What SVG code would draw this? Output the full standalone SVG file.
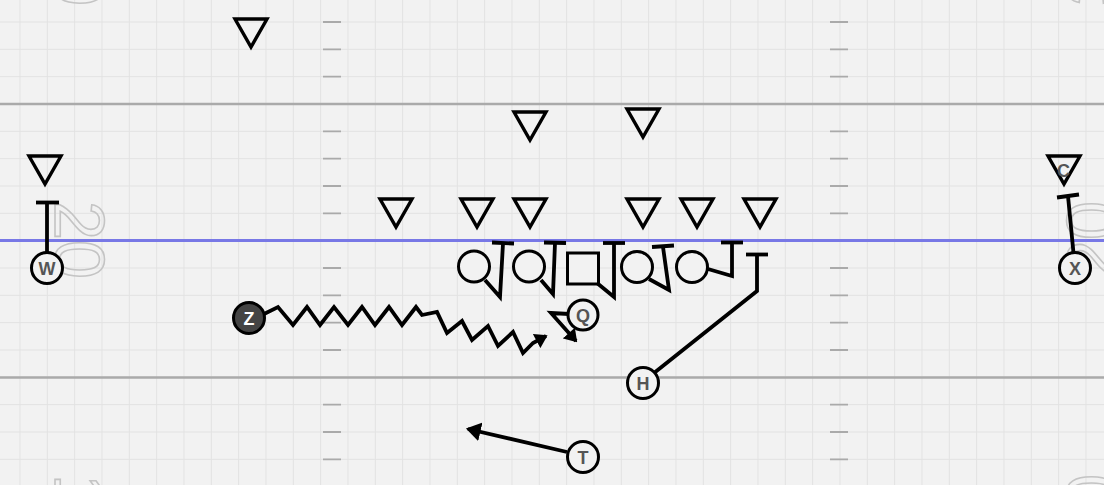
<svg xmlns="http://www.w3.org/2000/svg" width="1104" height="485" viewBox="0 0 1104 485">
<style>
.num{font-family:"Liberation Sans",Arial,sans-serif;font-size:70px;fill:none;stroke:#c4c4c4;stroke-width:1.6;}
.tri{fill:none;stroke:#000;stroke-width:3.4;stroke-linejoin:miter;}
.pl{fill:#f2f2f2;stroke:#000;stroke-width:3;}
.lbl{font-family:"Liberation Sans",Arial,sans-serif;font-weight:bold;font-size:18px;fill:#555;text-anchor:middle;}
.rt{fill:none;stroke:#000;stroke-width:3.8;stroke-linejoin:miter;stroke-linecap:butt;}
.hash{stroke:#aaa;stroke-width:1.8;fill:none;}
</style>
<defs>
<pattern id="grid" patternUnits="userSpaceOnUse" x="19.5" y="21.5" width="27.333" height="27.333">
<path d="M0 0.5H27.333M0.5 0V27.333" stroke="#e2e2e2" stroke-width="1" fill="none"/>
</pattern>
<marker id="ah" markerUnits="userSpaceOnUse" viewBox="0 0 14 18" refX="12" refY="9" markerWidth="15" markerHeight="19" orient="auto">
<path d="M0,0 L14,9 L0,18 z" fill="#000"/>
</marker>
<marker id="ahs" markerUnits="userSpaceOnUse" viewBox="0 0 14 18" refX="12" refY="9" markerWidth="13" markerHeight="16" orient="auto">
<path d="M0,0 L14,9 L0,18 z" fill="#000"/>
</marker>
</defs>
<g id="field">
<rect width="1104" height="485" fill="#f2f2f2"/>
<rect width="1104" height="485" fill="url(#grid)"/>
<path class="hash" d="M323 22H341M323 49.3H341M323 76.7H341M323 131.3H341M323 158.7H341M323 186H341M323 213.3H341M323 268H341M323 295.3H341M323 322.7H341M323 350H341M323 404.7H341M323 432H341M323 459.3H341
M830 22H848M830 49.3H848M830 76.7H848M830 131.3H848M830 158.7H848M830 186H848M830 213.3H848M830 268H848M830 295.3H848M830 322.7H848M830 350H848M830 404.7H848M830 432H848M830 459.3H848"/>
<text class="num" text-anchor="middle" transform="translate(55,240) rotate(90)">20</text>
<text class="num" text-anchor="middle" transform="translate(55,-33) rotate(90)">30</text>
<text class="num" text-anchor="middle" transform="translate(55,513) rotate(90)">10</text>
<text class="num" text-anchor="middle" transform="translate(1116,240) rotate(-90)">20</text>
<text class="num" text-anchor="middle" transform="translate(1116,-33) rotate(-90)">30</text>
<text class="num" text-anchor="middle" transform="translate(1116,513) rotate(-90)">10</text>
<line x1="0" y1="104" x2="1104" y2="104" stroke="#aaa" stroke-width="2.5"/>
<line x1="0" y1="377.5" x2="1104" y2="377.5" stroke="#aaa" stroke-width="2.5"/>
<line x1="0" y1="240.5" x2="1104" y2="240.5" stroke="#7878e6" stroke-width="3.2"/>
</g>
<g id="connectors">
<path class="rt" d="M485 280 L500 297 L503 243.5"/><path class="rt" d="M492 242.5 L514 243.5"/>
<path class="rt" d="M541 280 L553 294 L555 243"/><path class="rt" d="M544 242.5 L566 243"/>
<path class="rt" d="M597 283 L614 297 L614 243.5"/><path class="rt" d="M603 243 L625 243"/>
<path class="rt" d="M649 279 L669 290 L663 247"/><path class="rt" d="M652 247 L674 245.5"/>
<path class="rt" d="M708 269 L732 276 L732 243"/><path class="rt" d="M721 242.5 L743 242.5"/>
<path class="rt" d="M654 373 L757 291 L757 254.5"/><path class="rt" d="M746 254.5 L768 254.5"/>
<path class="rt" d="M47 253 L47 203"/><path class="rt" d="M36 202.5 L59 202.5"/>
<path class="rt" d="M1073.5 253 L1068 196"/><path class="rt" d="M1057 197.5 L1079 194.5"/>
<path class="rt" marker-end="url(#ah)" d="M567 452 L468 429"/>
<path class="rt" marker-end="url(#ahs)" d="M569 314 L551 313 L576 341"/>
<path class="rt" marker-end="url(#ahs)" d="M264 314 L278 307 L293 325 L307 307 L320 325 L334 307 L348 325 L362 307 L375 325 L389 307 L402 325 L416 307 L422 315 L437 312 L447 333 L462 321 L472 340 L488 326 L498 346 L513 332 L523 353 L533 343 L546 336"/>
</g>
<g id="defense">
<polygon class="tri" points="235,19 267,19 251,47"/>
<polygon class="tri" points="514,112 546,112 530,140"/>
<polygon class="tri" points="627,109 659,109 643,137"/>
<polygon class="tri" points="29,156 61,156 45,184"/>
<polygon class="tri" points="380,199 412,199 396,227"/>
<polygon class="tri" points="461,199 493,199 477,227"/>
<polygon class="tri" points="514,199 546,199 530,227"/>
<polygon class="tri" points="627,199 659,199 643,227"/>
<polygon class="tri" points="681,199 713,199 697,227"/>
<polygon class="tri" points="744,199 776,199 760,227"/>
<g id="C"><polygon class="tri" points="1048,156 1080,156 1064,184"/><text class="lbl" x="1063.5" y="177">C</text></g>
</g>
<g id="LT"><circle class="pl" cx="474" cy="266.5" r="15.5"/></g>
<g id="LG"><circle class="pl" cx="529" cy="266.5" r="15.5"/></g>
<g id="Ce"><rect class="pl" x="567.5" y="253" width="31" height="31"/></g>
<g id="RG"><circle class="pl" cx="637" cy="267" r="15.5"/></g>
<g id="RT"><circle class="pl" cx="692" cy="267" r="15.5"/></g>
<g id="W"><circle class="pl" cx="47" cy="268" r="15.5"/><text class="lbl" x="47" y="274.5">W</text></g>
<g id="X"><circle class="pl" cx="1075" cy="268" r="15.5"/><text class="lbl" x="1075" y="274.5">X</text></g>
<g id="Q"><circle class="pl" cx="583" cy="315" r="15"/><text class="lbl" x="583" y="321.5">Q</text></g>
<g id="Z"><circle cx="249" cy="318" r="15.5" fill="#444" stroke="#000" stroke-width="3"/><text class="lbl" x="249" y="324.5" style="fill:#fff">Z</text></g>
<g id="H"><circle class="pl" cx="643" cy="383" r="15.5"/><text class="lbl" x="643" y="389.5">H</text></g>
<g id="T"><circle class="pl" cx="583" cy="457" r="15.5"/><text class="lbl" x="583" y="463.5">T</text></g>
</svg>
